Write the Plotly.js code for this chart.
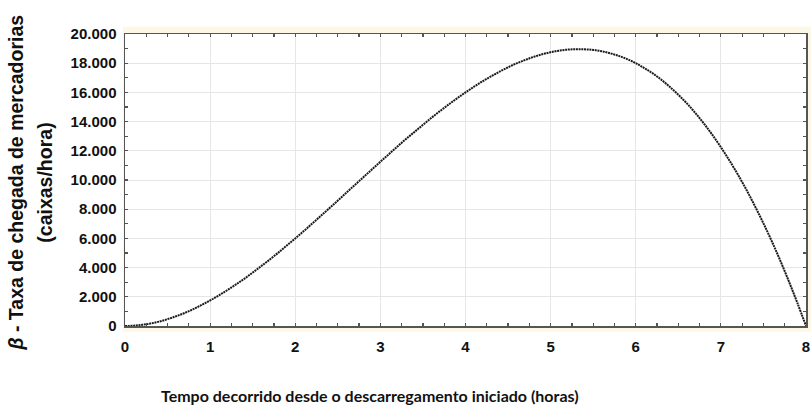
<!DOCTYPE html>
<html>
<head>
<meta charset="utf-8">
<script src="https://cdn.plot.ly/plotly-3.0.1.min.js"></script>
<style>html,body{margin:0;padding:0;background:#fff;}#chart{width:811px;height:408px;}</style>
</head>
<body>
<div id="chart"></div>
<script>
// Time elapsed since unloading started (hours)
const hours = [0,0.1,0.2,0.3,0.4,0.5,0.6,0.7,0.8,0.9,1.0,1.1,1.2,1.3,1.4,1.5,1.6,1.7,1.8,1.9,2.0,2.1,2.2,2.3,2.4,2.5,2.6,2.7,2.8,2.9,3.0,3.1,3.2,3.3,3.4,3.5,3.6,3.7,3.8,3.9,4.0,4.1,4.2,4.3,4.4,4.5,4.6,4.7,4.8,4.9,5.0,5.1,5.2,5.3,5.4,5.5,5.6,5.7,5.8,5.9,6.0,6.1,6.2,6.3,6.4,6.5,6.6,6.7,6.8,6.9,7.0,7.1,7.2,7.3,7.4,7.5,7.6,7.7,7.8,7.9,8.0];
// Arrival rate beta (boxes/hour)
const arrivalRate = [0,20,80,170,300,470,670,890,1150,1440,1750,2090,2450,2830,3230,3660,4100,4550,5020,5510,6000,6500,7020,7540,8060,8590,9130,9660,10190,10720,11250,11770,12290,12800,13290,13780,14260,14720,15160,15590,16000,16390,16760,17100,17420,17720,17990,18220,18430,18610,18750,18860,18930,18960,18950,18910,18820,18680,18500,18280,18000,17670,17300,16870,16380,15840,15250,14590,13870,13090,12250,11340,10370,9330,8210,7030,5780,4450,3040,1560,0];
const xTickVals = [0,1,2,3,4,5,6,7,8];
const xTickText = ['0','1','2','3','4','5','6','7','8'];
const yTickVals = [0,2000,4000,6000,8000,10000,12000,14000,16000,18000,20000];
const yTickText = ['0','2.000','4.000','6.000','8.000','10.000','12.000','14.000','16.000','18.000','20.000'];

const tickFont = {family:'"Liberation Sans", Arial, sans-serif', size:15, color:'#111', weight:'bold'};

const trace = {
  x: hours, y: arrivalRate, type:'scatter', mode:'lines',
  line:{color:'#1a1a1a', width:2, shape:'spline', dash:'2px,0.7px'},
  hoverinfo:'skip'
};

const axisCommon = {
  showline:true, linecolor:'#555', linewidth:1.5, mirror:'ticks',
  ticks:'inside', ticklen:3, tickwidth:1.2, tickcolor:'#555',
  showgrid:true, gridcolor:'#e6e6e6', gridwidth:1,
  zeroline:false, tickfont:tickFont, fixedrange:true
};

const layout = {
  width:811, height:408,
  margin:{l:125, r:5, t:34, b:82},
  paper_bgcolor:'#ffffff', plot_bgcolor:'#ffffff',
  showlegend:false,
  xaxis: Object.assign({}, axisCommon, {
    range:[0,8], tickvals:xTickVals, ticktext:xTickText, ticklabelstandoff:6,
    minor:{dtick:0.25, ticks:'inside', ticklen:3, tickcolor:'#555', showgrid:false}
  }),
  yaxis: Object.assign({}, axisCommon, {
    range:[0,20000], tickvals:yTickVals, ticktext:yTickText, ticklabelstandoff:4,
    minor:{dtick:1000, ticks:'inside', ticklen:3, tickcolor:'#555', showgrid:false}
  }),
  shapes:[
    {type:'rect', xref:'paper', yref:'paper', layer:'below',
     x0:-0.003, x1:1.01, y0:-0.02, y1:1.025, fillcolor:'#fdf7e6', line:{width:0}},
    {type:'rect', xref:'paper', yref:'paper', layer:'below',
     x0:0, x1:1, y0:0, y1:1, fillcolor:'#ffffff', line:{width:0}}
  ],
  annotations:[
    {text:'<b><i>β</i> - Taxa de chegada de mercadorias</b>', xref:'paper', yref:'paper',
     x:-125/679+16/679, y:0.49, xanchor:'center', yanchor:'middle', textangle:-90, showarrow:false,
     font:{family:'"Liberation Sans", Arial, sans-serif', size:19.5, color:'#111'}},
    {text:'<b>(caixas/hora)</b>', xref:'paper', yref:'paper',
     x:-125/679+45/679, y:0.49, xanchor:'center', yanchor:'middle', textangle:-90, showarrow:false,
     font:{family:'"Liberation Sans", Arial, sans-serif', size:19.5, color:'#111'}},
    {text:'<b>Tempo decorrido desde o descarregamento iniciado (horas)</b>', xref:'paper', yref:'paper',
     x:(369-125)/679, y:-(395-326)/292, xanchor:'center', yanchor:'middle', showarrow:false,
     font:{family:'Lato, "Open Sans", sans-serif', size:16, color:'#111'}}
  ]
};

Plotly.newPlot('chart', [trace], layout, {staticPlot:true, displayModeBar:false});
</script>
</body>
</html>
